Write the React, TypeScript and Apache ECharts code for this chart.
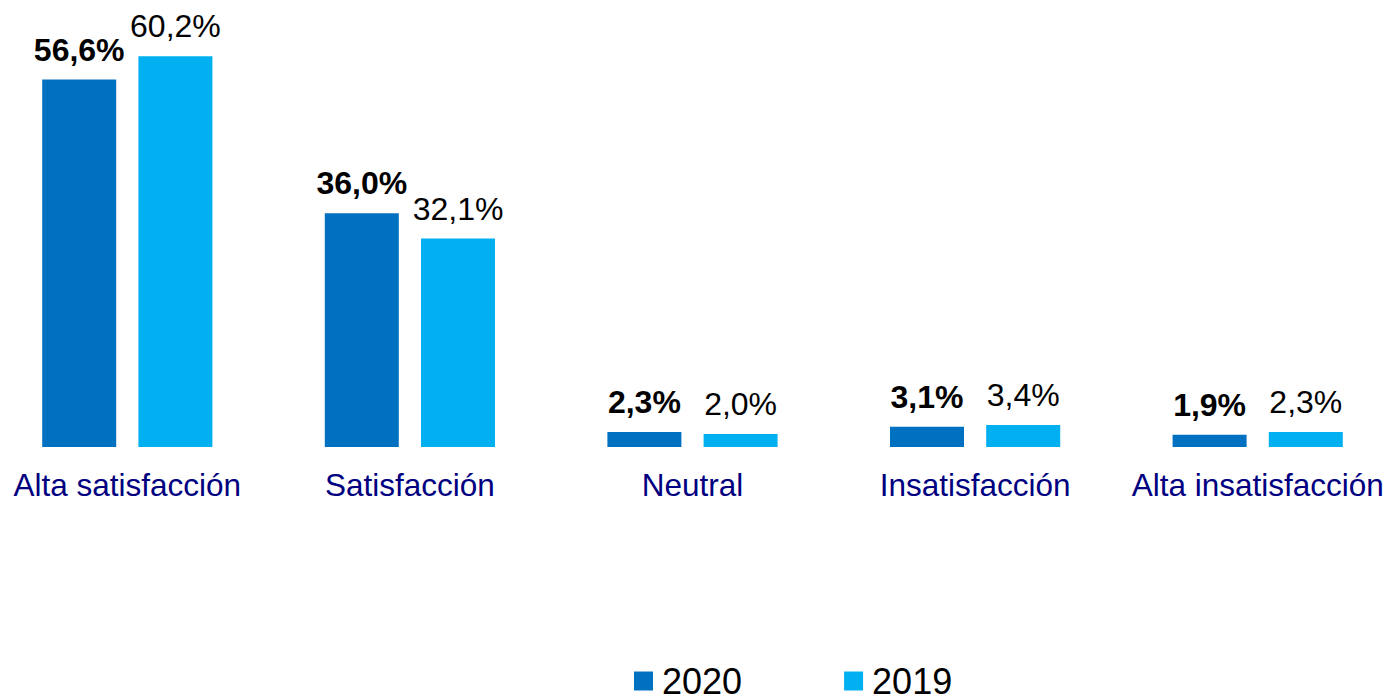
import React, { useEffect, useRef } from "react";
import * as echarts from "echarts";

const categories = ["Alta satisfacción", "Satisfacción", "Neutral", "Insatisfacción", "Alta insatisfacción"];
const values2020 = [56.6, 36.0, 2.3, 3.1, 1.9];
const values2019 = [60.2, 32.1, 2.0, 3.4, 2.3];
const seriesNames = ["2020", "2019"];

const fmt = (v: number) => v.toFixed(1).replace(".", ",") + "%";

export default function App() {
  const ref = useRef<HTMLDivElement>(null);
  useEffect(() => {
    const chart = echarts.init(ref.current!, null, { renderer: "svg" });
    const font = "'Liberation Sans', Arial, sans-serif";
    chart.setOption({
      animation: false,
      textStyle: { fontFamily: font },
      grid: { left: 0, right: 0, top: 25, bottom: 253 },
      legend: {
        top: 658,
        left: 643,
        itemWidth: 19,
        itemHeight: 19,
        itemGap: 102,
        icon: "rect",
        textStyle: { fontSize: 36, color: "#000", fontFamily: font, padding: [0, 0, 0, 4] },
        data: seriesNames,
      },
      xAxis: {
        type: "category",
        data: categories,
        axisLine: { show: false },
        axisTick: { show: false },
        axisLabel: { fontSize: 31.5, color: "#000080", margin: 22, fontFamily: font, interval: 0 },
      },
      yAxis: { type: "value", min: 0, max: 65, show: false, splitLine: { show: false } },
      series: [
        {
          name: seriesNames[0],
          type: "bar",
          data: values2020,
          barWidth: 74,
          barGap: "30%",
          itemStyle: { color: "#0070C0" },
          label: {
            show: true,
            position: "top",
            distance: 14,
            fontSize: 32,
            fontWeight: "bold",
            color: "#000",
            fontFamily: font,
            formatter: (p: any) => fmt(p.value),
          },
        },
        {
          name: seriesNames[1],
          type: "bar",
          data: values2019,
          barWidth: 74,
          itemStyle: { color: "#00B0F0" },
          label: {
            show: true,
            position: "top",
            distance: 14,
            fontSize: 32,
            color: "#000",
            fontFamily: font,
            formatter: (p: any) => fmt(p.value),
          },
        },
      ],
    });
    return () => chart.dispose();
  }, []);
  return <div ref={ref} style={{ width: 1413, height: 700, position: "absolute", left: -14, top: 0 }} />;
}
